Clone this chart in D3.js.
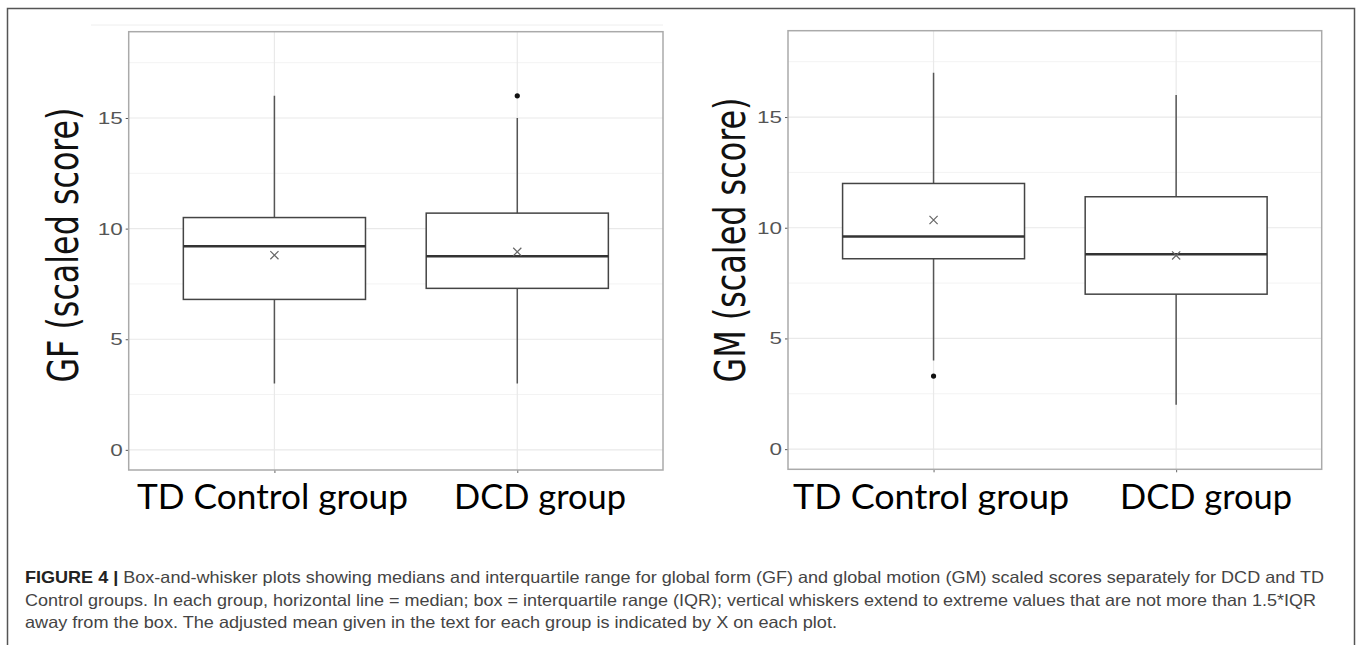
<!DOCTYPE html>
<html>
<head>
<meta charset="utf-8">
<script src="https://cdn.jsdelivr.net/npm/d3@7"></script>
<style>
  body { margin: 0; background: #fff; }
  svg { display: block; }
</style>
</head>
<body>
<div id="chart"></div>
<script>
// groups on the x axis
const groups = ["TD Control group", "DCD group"];

// y axis ticks
const majorTicks = [0, 5, 10, 15];
const minorTicks = [2.5, 7.5, 12.5, 17.5];

// global form (GF) box stats, one value per group
const gfLower  = [3, 3];
const gfQ1     = [6.8, 7.3];
const gfMedian = [9.2, 8.75];
const gfQ3     = [10.5, 10.7];
const gfUpper  = [16, 15];
const gfMean   = [8.8, 8.95];
const gfOutliers = [[], [16]];

// global motion (GM) box stats
const gmLower  = [4, 2];
const gmQ1     = [8.6, 7.0];
const gmMedian = [9.6, 8.8];
const gmQ3     = [12.0, 11.4];
const gmUpper  = [17, 16];
const gmMean   = [10.35, 8.75];
const gmOutliers = [[3.3], []];

const captionLines = [
    "Box-and-whisker plots showing medians and interquartile range for global form (GF) and global motion (GM) scaled scores separately for DCD and TD",
    "Control groups. In each group, horizontal line = median; box = interquartile range (IQR); vertical whiskers extend to extreme values that are not more than 1.5*IQR",
    "away from the box. The adjusted mean given in the text for each group is indicated by X on each plot."
];

var width = 1357;
var height = 645;

let svg = d3.select('#chart')
    .append('svg')
        .attr('width', width)
        .attr('height', height);

// outer figure frame
svg.append('rect')
    .attr('x', 7.5).attr('y', 8.5)
    .attr('width', 1347).attr('height', 660)
    .attr('fill', 'none')
    .attr('stroke', '#555')
    .attr('stroke-width', 1.5);

function buildRows(lower, q1, median, q3, upper, mean, outliers) {
    return groups.map(function (g, i) {
        return { group: g, lower: lower[i], q1: q1[i], median: median[i],
                 q3: q3[i], upper: upper[i], mean: mean[i], outliers: outliers[i] };
    });
}

function drawPanel(opts) {
    let rows = opts.rows;
    let g = svg.append('g');

    let xScale = d3.scalePoint()
        .domain(groups)
        .range([opts.left, opts.right])
        .padding(0.6);

    let yScale = d3.scaleLinear()
        .domain([-0.91, 18.9])
        .range([opts.bottom, opts.top]);

    let boxW = xScale.step() * 0.75;

    // faint edge of the pasted plot image
    if (opts.imgTop) {
        g.append('line')
            .attr('x1', opts.imgLeft).attr('x2', opts.right)
            .attr('y1', opts.imgTop).attr('y2', opts.imgTop)
            .attr('stroke', '#eee');
    }

    // minor grid
    g.selectAll('.minor')
        .data(minorTicks)
        .enter().append('line')
        .attr('x1', opts.left).attr('x2', opts.right)
        .attr('y1', d => yScale(d)).attr('y2', d => yScale(d))
        .attr('stroke', '#f3f3f3')
        .attr('stroke-width', 1);

    // major grid
    g.selectAll('.major')
        .data(majorTicks)
        .enter().append('line')
        .attr('x1', opts.left).attr('x2', opts.right)
        .attr('y1', d => yScale(d)).attr('y2', d => yScale(d))
        .attr('stroke', '#e9e9e9')
        .attr('stroke-width', 1.2);

    g.selectAll('.vgrid')
        .data(groups)
        .enter().append('line')
        .attr('x1', d => xScale(d)).attr('x2', d => xScale(d))
        .attr('y1', opts.top).attr('y2', opts.bottom)
        .attr('stroke', '#e9e9e9')
        .attr('stroke-width', 1.2);

    // y axis ticks and labels
    let yAxis = d3.axisLeft(yScale)
        .tickValues(majorTicks)
        .tickSize(3)
        .tickPadding(3);
    let ya = g.append('g')
        .attr('transform', 'translate(' + opts.left + ',0)')
        .call(yAxis);
    ya.select('.domain').remove();
    ya.selectAll('.tick line').attr('stroke', '#555');
    ya.selectAll('.tick text')
        .attr('fill', '#555')
        .attr('textLength', d => String(d).length * 12.5)
        .attr('lengthAdjust', 'spacingAndGlyphs')
        .style('font-family', 'Liberation Sans, Arial, sans-serif')
        .style('font-size', '17px');

    // x axis ticks
    let xAxis = d3.axisBottom(xScale).tickSize(3).tickFormat('');
    let xa = g.append('g')
        .attr('transform', 'translate(0,' + opts.bottom + ')')
        .call(xAxis);
    xa.select('.domain').remove();
    xa.selectAll('.tick line').attr('stroke', '#666');

    // whiskers
    g.selectAll('.whisker')
        .data(rows)
        .enter().append('line')
        .attr('x1', d => xScale(d.group)).attr('x2', d => xScale(d.group))
        .attr('y1', d => yScale(d.lower)).attr('y2', d => yScale(d.upper))
        .attr('stroke', '#555')
        .attr('stroke-width', 1.5);

    // boxes
    g.selectAll('.box')
        .data(rows)
        .enter().append('rect')
        .attr('x', d => xScale(d.group) - boxW / 2)
        .attr('y', d => yScale(d.q3))
        .attr('width', boxW)
        .attr('height', d => yScale(d.q1) - yScale(d.q3))
        .attr('fill', '#fff')
        .attr('stroke', '#444')
        .attr('stroke-width', 1.5);

    // medians
    g.selectAll('.median')
        .data(rows)
        .enter().append('line')
        .attr('x1', d => xScale(d.group) - boxW / 2)
        .attr('x2', d => xScale(d.group) + boxW / 2)
        .attr('y1', d => yScale(d.median)).attr('y2', d => yScale(d.median))
        .attr('stroke', '#333')
        .attr('stroke-width', 2.5);

    // adjusted means (X)
    let cross = d3.symbol().type(d3.symbolX).size(45);
    g.selectAll('.mean')
        .data(rows)
        .enter().append('path')
        .attr('d', cross)
        .attr('transform', d => 'translate(' + xScale(d.group) + ',' + yScale(d.mean) + ')')
        .attr('fill', 'none')
        .attr('stroke', '#666')
        .attr('stroke-width', 1.2);

    // outliers
    let pts = [];
    rows.forEach(function (r) {
        r.outliers.forEach(function (v) { pts.push({ group: r.group, value: v }); });
    });
    g.selectAll('.outlier')
        .data(pts)
        .enter().append('circle')
        .attr('cx', d => xScale(d.group))
        .attr('cy', d => yScale(d.value))
        .attr('r', 2.6)
        .attr('fill', '#111');

    // panel border
    g.append('rect')
        .attr('x', opts.left).attr('y', opts.top)
        .attr('width', opts.right - opts.left)
        .attr('height', opts.bottom - opts.top)
        .attr('fill', 'none')
        .attr('stroke', '#aaa')
        .attr('stroke-width', 1.5);

    // y label
    g.append('text')
        .attr('transform', 'translate(' + opts.labelX + ',' + opts.labelY + ') rotate(-90)')
        .attr('text-anchor', 'middle')
        .attr('textLength', opts.labelLen)
        .attr('lengthAdjust', 'spacingAndGlyphs')
        .style('font-family', 'DejaVu Sans Condensed, DejaVu Sans, sans-serif')
        .style('font-size', '43px')
        .attr('fill', '#111')
        .text(opts.yLabel);

    // category labels
    g.selectAll('.catlabel')
        .data(groups)
        .enter().append('text')
        .attr('x', (d, i) => opts.catX[i])
        .attr('y', 509)
        .attr('textLength', (d, i) => opts.catLen[i])
        .attr('lengthAdjust', 'spacingAndGlyphs')
        .style('font-family', 'Lato, sans-serif')
        .style('font-size', '34px')
        .attr('fill', '#000')
        .text(d => d);
}

drawPanel({
    rows: buildRows(gfLower, gfQ1, gfMedian, gfQ3, gfUpper, gfMean, gfOutliers),
    left: 128.7, right: 663, top: 31.7, bottom: 470,
    imgLeft: 91, imgTop: 25,
    yLabel: 'GF (scaled score)', labelX: 78, labelY: 245, labelLen: 275,
    catX: [137, 454], catLen: [271, 172]
});

drawPanel({
    rows: buildRows(gmLower, gmQ1, gmMedian, gmQ3, gmUpper, gmMean, gmOutliers),
    left: 788, right: 1321.7, top: 30.7, bottom: 469.3,
    yLabel: 'GM (scaled score)', labelX: 745, labelY: 240, labelLen: 285,
    catX: [793, 1120], catLen: [276, 172]
});

// caption
let cap = svg.append('g')
    .style('font-family', 'Liberation Sans, Arial, sans-serif')
    .style('font-size', '16.5px');

let first = cap.append('text')
    .attr('x', 25).attr('y', 583)
    .attr('textLength', 1299)
    .attr('lengthAdjust', 'spacingAndGlyphs');
first.append('tspan')
    .attr('font-weight', 'bold')
    .attr('fill', '#222')
    .text('FIGURE 4 | ');
first.append('tspan')
    .attr('fill', '#444')
    .text(captionLines[0]);

cap.append('text')
    .attr('x', 25).attr('y', 606)
    .attr('textLength', 1291)
    .attr('lengthAdjust', 'spacingAndGlyphs')
    .attr('fill', '#444')
    .text(captionLines[1]);

cap.append('text')
    .attr('x', 25).attr('y', 628)
    .attr('textLength', 812)
    .attr('lengthAdjust', 'spacingAndGlyphs')
    .attr('fill', '#444')
    .text(captionLines[2]);
</script>
</body>
</html>
